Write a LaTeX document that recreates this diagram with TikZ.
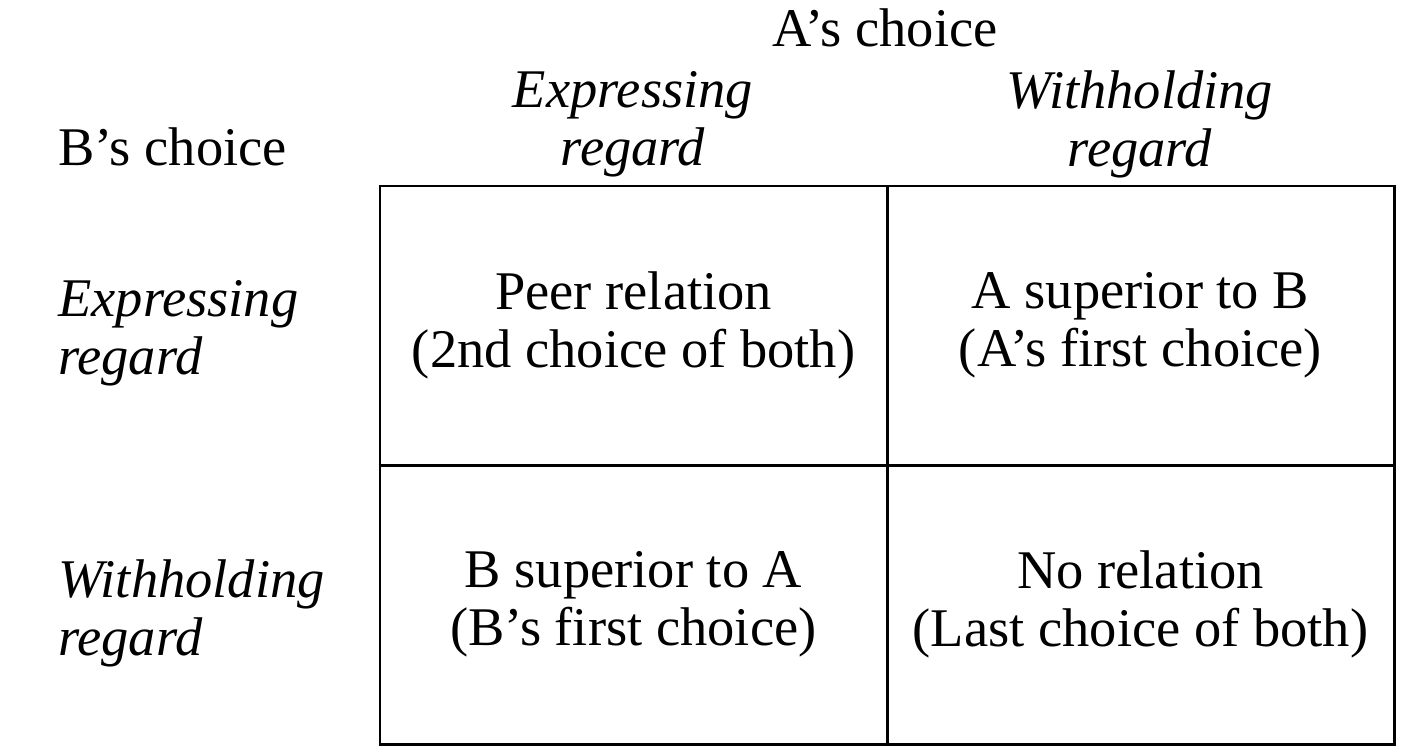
\documentclass[tikz,border=0pt]{standalone}
\usepackage{fontspec}
\setmainfont{Liberation Serif}
\usetikzlibrary{positioning}
\newcommand{\tabfont}{\fontsize{31}{33}\selectfont}
\tikzset{
  cell/.style={draw, line width=1.7pt, minimum width=10.14cm, minimum height=5.58cm, align=center, inner sep=0pt},
  head/.style={align=center, font=\tabfont\itshape},
  side/.style={align=left, font=\tabfont\itshape, anchor=west, inner sep=0pt}
}
\begin{document}
\begin{tikzpicture}[font=\tabfont]
\useasboundingbox (0,0) rectangle (28.12,-15.04);
% payoff cells
\node [cell] (ee) at (12.67,-6.51) {Peer relation\\(2nd choice of both)};
\node [cell, right=-1.7pt of ee] (ew) {A superior to B\\(A’s first choice)};
\node [cell, below=-1.7pt of ee] (we) {B superior to A\\(B’s first choice)};
\node [cell, below=-1.7pt of ew] (ww) {No relation\\(Last choice of both)};
% headers
\node [head] (ae) at (12.66,-2.48) {Expressing\\regard};
\node [head] (aw) at (22.8,-2.48) {Withholding\\regard};
\node (ach) at (17.7,-0.56) {A’s choice};
\node [anchor=west, inner sep=0pt] (bch) at (1.16,-2.94) {B’s choice};
\node [side] (be) at (1.16,-6.66) {Expressing\\regard};
\node [side] (bw) at (1.16,-12.26) {Withholding\\regard};
\end{tikzpicture}
\end{document}
